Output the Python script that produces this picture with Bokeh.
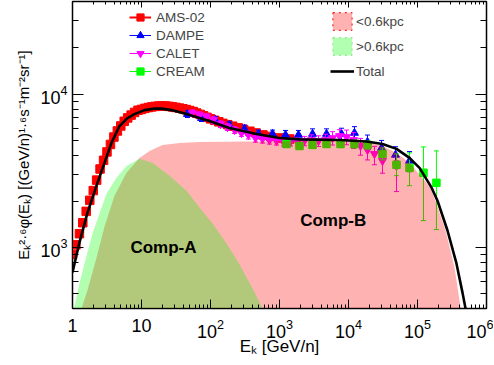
from bokeh.plotting import figure
from bokeh.models import (Range1d, LogAxis, LogTicker, LogTickFormatter, Label,
                          Legend, LegendItem)
from bokeh.embed import file_html
from bokeh.resources import INLINE

# ---------------- data ----------------
ams_E = [1.00, 1.12, 1.26, 1.41, 1.58, 1.78, 2.00, 2.24, 2.51, 2.82, 3.16, 3.55, 3.98, 4.47,
         5.01, 5.62, 6.31, 7.08, 7.94, 8.91, 10.0, 11.2, 12.6, 14.1, 15.8, 17.8, 20.0, 22.4,
         25.1, 28.2, 31.6, 35.5, 39.8, 44.7, 50.1, 56.2, 63.1, 70.8, 79.4, 89.1, 100, 115,
         132, 151, 178, 209, 251, 302, 372, 457, 575, 741, 1000, 1410]
ams_F = [900, 1040, 1230, 1450, 1720, 2030, 2350, 2750, 3250, 3700, 4200, 4700, 5250, 5750,
         6200, 6650, 7000, 7300, 7600, 7850, 7950, 8080, 8180, 8260, 8320, 8360, 8370, 8360,
         8320, 8260, 8190, 8110, 8030, 7930, 7820, 7700, 7530, 7380, 7220, 7060, 6900, 6750,
         6600, 6450, 6320, 6180, 6030, 5880, 5730, 5580, 5420, 5300, 5180, 5100]

dampe_E = [46.4, 74.1, 118, 188, 311, 496, 792, 1222, 1884, 3010, 4800, 7920, 12200,
           18840, 30100, 48000, 76600]
dampe_F = [7410, 6980, 6780, 6290, 5930, 5500, 5500, 5420, 5420, 5500, 5500, 5500, 5580,
           4875, 4457, 4018, 3673]
dampe_err = [0.05, 0.05, 0.05, 0.05, 0.06, 0.06, 0.06, 0.07, 0.07, 0.08, 0.08, 0.09, 0.10,
             0.11, 0.12, 0.13, 0.15]

calet_E = [54.8, 69.3, 87.5, 110, 140, 176, 223, 281, 355, 449, 567, 716, 905, 1143, 1443,
           1824, 2303, 2910, 3675, 4642, 5863, 7406, 9354, 11815, 14925, 18850, 23810,
           31100, 49600]
calet_F = [7530, 7310, 7100, 6780, 6385, 6105, 5840, 5580, 5420, 5175, 5100, 5025, 4955,
           4880, 4880, 4880, 4955, 5025, 4955, 5025, 5175, 5335, 5255, 5025, 4595, 4330,
           4075, 3675, 3405]
calet_err_lo = [0.05, 0.05, 0.05, 0.05, 0.05, 0.05, 0.05, 0.05, 0.06, 0.06, 0.06, 0.06,
                0.06, 0.06, 0.06, 0.06, 0.07, 0.08, 0.08, 0.09, 0.10, 0.10, 0.11, 0.12,
                0.13, 0.14, 0.15, 0.17, 0.32]
calet_err_hi = [0.05, 0.05, 0.05, 0.05, 0.05, 0.05, 0.05, 0.05, 0.06, 0.06, 0.06, 0.06,
                0.06, 0.06, 0.06, 0.06, 0.07, 0.08, 0.08, 0.09, 0.10, 0.10, 0.11, 0.12,
                0.12, 0.12, 0.12, 0.10, 0.08]

cream_E = [1262, 1950, 3010, 4800, 7660, 12200, 18840, 31100, 49600, 76600, 122000, 188000]
cream_F = [4730, 4590, 4665, 4730, 4730, 4730, 4665, 4075, 3460, 3305, 3070, 2642]
cream_lo = [4500, 4370, 4440, 4500, 4480, 4460, 4380, 3726, 2940, 2530, 1497, 1309]
cream_hi = [4960, 4820, 4890, 4960, 4980, 5000, 4950, 4457, 4075, 4140, 4530, 4265]

compA_E = [1.0, 1.26, 1.59, 1.95, 2.46, 3.11, 4.34, 6.06, 9.35, 14.4, 25.5, 44.9, 69.3,
           107, 171, 263, 406, 567, 716]
compA_F = [362, 583, 875, 1233, 1663, 2244, 2851, 3405, 3785, 3565, 2940, 2344, 1820,
           1432, 1062, 776, 542, 402, 312]

compB_E = [1.35, 1.65, 2.23, 2.91, 4.06, 6.06, 9.35, 13.1, 20.2, 35.5, 69.3, 367, 1950,
           7410, 14430, 20150, 31100, 49600, 76600, 114000, 154000, 182000, 255000,
           344000, 420000, 464000]
compB_F = [402, 526, 861, 1368, 2177, 3070, 3837, 4265, 4667, 4808, 4878, 4914, 4953,
           4953, 4914, 4830, 4595, 4140, 3565, 2890, 2455, 2018, 1290, 742, 407, 289]

total_E = [1.0, 1.26, 1.65, 2.23, 2.91, 3.67, 4.80, 6.27, 7.93, 11.0, 15.4, 19.5, 27.2,
           44.9, 69.3, 96.6, 188, 465, 1000, 1950, 7410, 18300, 31100, 49600, 76600,
           107000, 160000, 195000, 272000, 367000, 451000, 496000, 532000]
total_F = [688, 1077, 1688, 2529, 3565, 4808, 6194, 6982, 7410, 7870, 8050, 8050, 7870,
           7410, 6982, 6680, 6010, 5495, 5175, 5070, 5025, 4914, 4733, 4395, 3837, 3305,
           2455, 2018, 1290, 787, 502, 402, 336]

x_title = "E\u2096 [GeV/n]"
y_title = "E\u2096\u00b2\u00b7\u2076\u03c6(E\u2096) [(GeV/n)\u00b9\u00b7\u2076s\u207b\u00b9m\u207b\u00b2sr\u207b\u00b9]"

FONT = "Liberation Sans"

# ---------------- figure ----------------
p = figure(width=493, height=365, x_axis_type="log", y_axis_type="log",
           x_range=Range1d(1, 1e6), y_range=Range1d(400, 40200),
           output_backend="svg", toolbar_location=None,
           min_border_left=72, min_border_right=7, min_border_top=1, min_border_bottom=57)
p.xgrid.visible = False
p.ygrid.visible = False
p.outline_line_color = "black"
p.outline_line_width = 1.5
p.background_fill_color = "white"
p.border_fill_color = "white"


def style_axis(ax, maj, mnr, labels=True):
    ax.ticker = LogTicker(mantissas=[1], num_minor_ticks=10)
    ax.major_tick_in = maj
    ax.major_tick_out = 0
    ax.minor_tick_in = mnr
    ax.minor_tick_out = 0
    ax.axis_line_color = "black"
    ax.major_tick_line_color = "black"
    ax.minor_tick_line_color = "black"
    if labels:
        ax.major_label_text_font = FONT
        ax.major_label_text_font_size = "18px"
        ax.major_label_text_color = "black"
        ax.axis_label_text_font = FONT
        ax.axis_label_text_font_style = "normal"
        ax.axis_label_text_color = "black"
    else:
        ax.major_label_text_font_size = "1px"
        ax.major_label_text_alpha = 0
        ax.major_label_standoff = 0
        ax.axis_label_standoff = 0


xa = p.xaxis[0]
style_axis(xa, 9, 4)
xa.formatter = LogTickFormatter(min_exponent=2)
xa.major_label_standoff = 10
xa.axis_label = x_title
xa.axis_label_text_font_size = "17px"
xa.axis_label_standoff = -4

ya = p.yaxis[0]
style_axis(ya, 11, 6)
ya.major_label_standoff = 5
ya.axis_label = y_title
ya.axis_label_text_font_size = "15px"
ya.axis_label_standoff = 5

top_ax = LogAxis()
style_axis(top_ax, 6, 3, labels=False)
p.add_layout(top_ax, "above")
right_ax = LogAxis()
style_axis(right_ax, 11, 6, labels=False)
p.add_layout(right_ax, "right")

# ---------------- data points ----------------
ams_r = p.scatter(ams_E, ams_F, marker="square", size=8.5, color="#ff0000")

d_lo = [f * (1 - e) for f, e in zip(dampe_F, dampe_err)]
d_hi = [f * (1 + e) for f, e in zip(dampe_F, dampe_err)]
p.segment(dampe_E, d_lo, dampe_E, d_hi, line_color="#0000ff", line_width=1)
p.scatter(dampe_E, d_lo, marker="dash", size=5, line_color="#0000ff")
p.scatter(dampe_E, d_hi, marker="dash", size=5, line_color="#0000ff")
dampe_r = p.scatter(dampe_E, dampe_F, marker="triangle", size=8, color="#0000ff")

c_lo = [f * (1 - e) for f, e in zip(calet_F, calet_err_lo)]
c_hi = [f * (1 + e) for f, e in zip(calet_F, calet_err_hi)]
p.segment(calet_E, c_lo, calet_E, c_hi, line_color="#ff00ff", line_width=1)
p.scatter(calet_E, c_lo, marker="dash", size=5, line_color="#ff00ff")
p.scatter(calet_E, c_hi, marker="dash", size=5, line_color="#ff00ff")
calet_r = p.scatter(calet_E, calet_F, marker="inverted_triangle", size=8, color="#ff00ff")

p.segment(cream_E, cream_lo, cream_E, cream_hi, line_color="#00ff00", line_width=1)
p.scatter(cream_E, cream_lo, marker="dash", size=5, line_color="#00ff00")
p.scatter(cream_E, cream_hi, marker="dash", size=5, line_color="#00ff00")
cream_r = p.scatter(cream_E, cream_F, marker="square", size=7.5, color="#00ff00")

# ---------------- components ----------------
p.varea(x=compB_E, y1=1, y2=compB_F, fill_color="#ff0000", fill_alpha=0.3)
p.varea(x=compA_E, y1=1, y2=compA_F, fill_color="#00ff00", fill_alpha=0.3)
total_r = p.line(total_E, total_F, line_color="black", line_width=2.6)

# ---------------- legends (hidden helper renderers only feed legend glyphs) ----------------
ams_l = p.line(ams_E, ams_F, line_color="#ff0000", line_width=2, visible=False)
dampe_l = p.line(dampe_E, dampe_F, line_color="#0000ff", line_width=1, visible=False)
calet_l = p.line(calet_E, calet_F, line_color="#ff00ff", line_width=1, visible=False)
cream_l = p.line(cream_E, cream_F, line_color="#00ff00", line_width=1, visible=False)
near_q = p.quad(left=compB_E[:-1], right=compB_E[1:], top=compB_F[:-1], bottom=1,
                fill_color="#ff0000", fill_alpha=0.3, line_color="#ff0000",
                line_dash="dotted", line_width=1, visible=False)
far_q = p.quad(left=compA_E[:-1], right=compA_E[1:], top=compA_F[:-1], bottom=1,
               fill_color="#00ff00", fill_alpha=0.3, line_color="#80e080",
               line_dash="dotted", line_width=1, visible=False)

leg1 = Legend(items=[LegendItem(label="AMS-02", renderers=[ams_l, ams_r], index=0),
                     LegendItem(label="DAMPE", renderers=[dampe_l, dampe_r], index=0),
                     LegendItem(label="CALET", renderers=[calet_l, calet_r], index=0),
                     LegendItem(label="CREAM", renderers=[cream_l, cream_r], index=0)],
              location=(57, 228), glyph_width=22, glyph_height=18, label_height=18,
              spacing=0, padding=0, margin=0, border_line_color=None,
              background_fill_alpha=0, label_text_font=FONT,
              label_text_font_size="13.5px", label_standoff=5)
leg2 = Legend(items=[LegendItem(label="<0.6kpc", renderers=[near_q], index=0),
                     LegendItem(label=">0.6kpc", renderers=[far_q], index=0),
                     LegendItem(label="Total", renderers=[total_r], index=0)],
              location=(258, 226), glyph_width=24, glyph_height=22, label_height=22,
              spacing=3, padding=0, margin=0, border_line_color=None,
              background_fill_alpha=0, label_text_font=FONT,
              label_text_font_size="13.5px", label_standoff=2)
p.add_layout(leg1)
p.add_layout(leg2)

# ---------------- text ----------------
p.add_layout(Label(x=20.8, y=1005, text="Comp-A", text_font=FONT, text_font_size="17px",
                   text_font_style="bold", text_align="center", text_baseline="middle",
                   text_color="black"))
p.add_layout(Label(x=6000, y=1497, text="Comp-B", text_font=FONT, text_font_size="17px",
                   text_font_style="bold", text_align="center", text_baseline="middle",
                   text_color="black"))

open("out.html", "w").write(file_html(p, INLINE))
